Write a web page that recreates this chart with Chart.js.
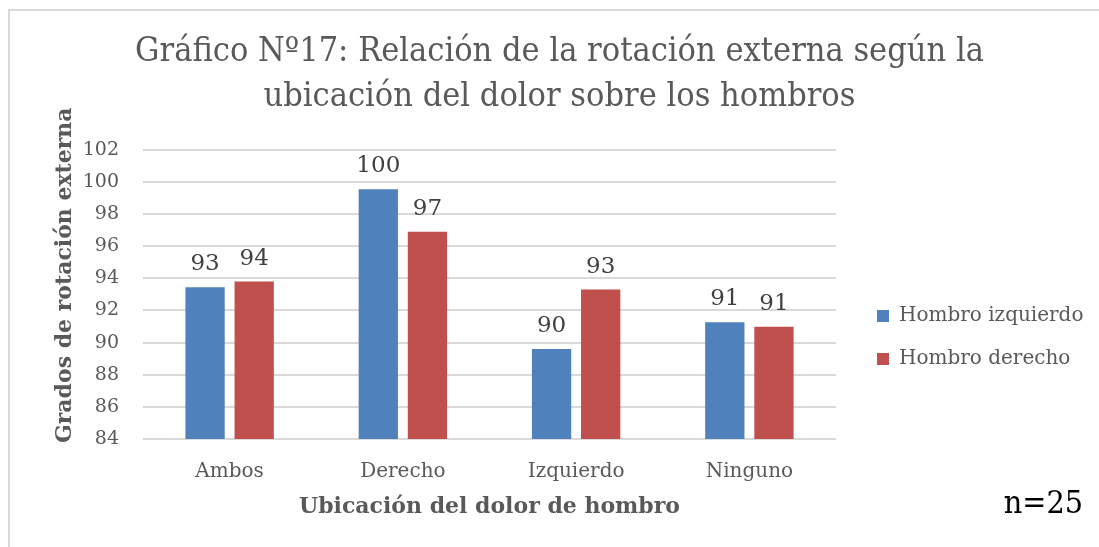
<!DOCTYPE html>
<html>
<head>
<meta charset="utf-8">
<title>Gráfico Nº17</title>
<script src="https://cdn.jsdelivr.net/npm/chart.js@4.4.0/dist/chart.umd.min.js"></script>
<style>
  html, body { margin: 0; padding: 0; background: #fff; }
  #wrap { position: relative; width: 1099px; height: 547px; overflow: hidden; }
  #wrap canvas { position: absolute; left: 0; top: 0; }
  #frame {
    position: absolute; left: 8px; top: 9px; width: 1200px; height: 700px;
    border-left: 2px solid #d9d9d9; border-top: 2px solid #d9d9d9;
    pointer-events: none;
  }
</style>
</head>
<body>
<div id="wrap">
  <canvas id="chart" width="1099" height="547"></canvas>
  <div id="frame"></div>
</div>
<script>
  // Data
  const categories = ['Ambos', 'Derecho', 'Izquierdo', 'Ninguno'];
  const hombroIzquierdo = [93.44, 99.55, 89.6, 91.27];
  const hombroDerecho = [93.8, 96.9, 93.3, 90.99];
  const yMin = 84;
  const yMax = 102;
  const yStep = 2;
  const sampleSize = 'n=25';

  const serif = "'DejaVu Serif', serif";
  const grey = '#595959';

  // Value labels above each bar
  const valueLabels = {
    id: 'valueLabels',
    afterDatasetsDraw(chart) {
      const ctx = chart.ctx;
      ctx.save();
      ctx.font = '23px ' + serif;
      ctx.fillStyle = '#404040';
      ctx.textAlign = 'center';
      ctx.textBaseline = 'alphabetic';
      chart.data.datasets.forEach((ds, i) => {
        chart.getDatasetMeta(i).data.forEach((bar, j) => {
          ctx.fillText(Math.round(ds.data[j]), bar.x, bar.y - 17);
        });
      });
      ctx.restore();
    }
  };

  // "n=25" note in the bottom right corner
  const sampleNote = {
    id: 'sampleNote',
    afterDraw(chart) {
      const ctx = chart.ctx;
      ctx.save();
      ctx.font = "32px 'DejaVu Serif Condensed', serif";
      ctx.fillStyle = '#000';
      ctx.textAlign = 'right';
      ctx.textBaseline = 'alphabetic';
      ctx.fillText(sampleSize, chart.width - 16, chart.height - 34);
      ctx.restore();
    }
  };

  // fixed legend width so it ends at the right edge
  const legendWidth = {
    id: 'legendWidth',
    afterInit(chart) {
      const legend = chart.legend;
      const fit = legend.fit;
      legend.fit = function () {
        fit.call(this);
        this.width = 245;
      };
    }
  };

  new Chart(document.getElementById('chart'), {
    type: 'bar',
    data: {
      labels: categories,
      datasets: [{
        label: 'Hombro izquierdo',
        data: hombroIzquierdo,
        backgroundColor: '#4f81bd',
        categoryPercentage: 0.567,
        barPercentage: 0.8
      }, {
        label: 'Hombro derecho',
        data: hombroDerecho,
        backgroundColor: '#c0504d',
        categoryPercentage: 0.567,
        barPercentage: 0.8
      }]
    },
    options: {
      responsive: false,
      animation: false,
      layout: { padding: { left: 20, right: 0, top: 0, bottom: 0 } },
      plugins: {
        tooltip: { enabled: false },
        title: {
          display: true,
          text: ['Gráfico Nº17: Relación de la rotación externa según la',
                 'ubicación del dolor sobre los hombros'],
          color: grey,
          font: { family: "'DejaVu Serif Condensed', serif", size: 34, weight: 'normal', lineHeight: 1.32 },
          padding: { top: 30, bottom: 30 }
        },
        legend: {
          position: 'right',
          fullSize: false,
          labels: {
            color: grey,
            font: { family: serif, size: 20 },
            boxWidth: 12,
            boxHeight: 12,
            padding: 23
          },
          title: { display: true, text: '', font: { size: 10 }, padding: 37 }
        }
      },
      scales: {
        x: {
          grid: { display: false },
          border: { display: false },
          ticks: { color: grey, font: { family: serif, size: 20 }, padding: 13 },
          title: {
            display: true,
            text: 'Ubicación del dolor de hombro',
            color: grey,
            font: { family: serif, size: 22, weight: 'bold' },
            padding: { top: 4, bottom: 27 }
          },
          afterFit(scale) { scale.height = 108; }
        },
        y: {
          min: yMin,
          max: yMax,
          grid: { color: '#d9d9d9', lineWidth: 2, drawTicks: false },
          border: { display: false },
          ticks: { stepSize: yStep, color: grey, font: { family: serif, size: 19 }, padding: 24 },
          title: {
            display: true,
            // leading spaces lift the label a little, as in the original
            text: '     Grados de rotación externa',
            color: grey,
            font: { family: serif, size: 22, weight: 'bold' },
            padding: { top: 32, bottom: 0 }
          },
          afterFit(scale) { scale.width = 123; }
        },
        // empty strip between plot and legend
        gap: {
          position: 'right',
          grid: { display: false },
          border: { display: false },
          ticks: { display: false },
          afterFit(scale) { scale.width = 18; }
        }
      }
    },
    plugins: [valueLabels, sampleNote, legendWidth]
  });
</script>
</body>
</html>
